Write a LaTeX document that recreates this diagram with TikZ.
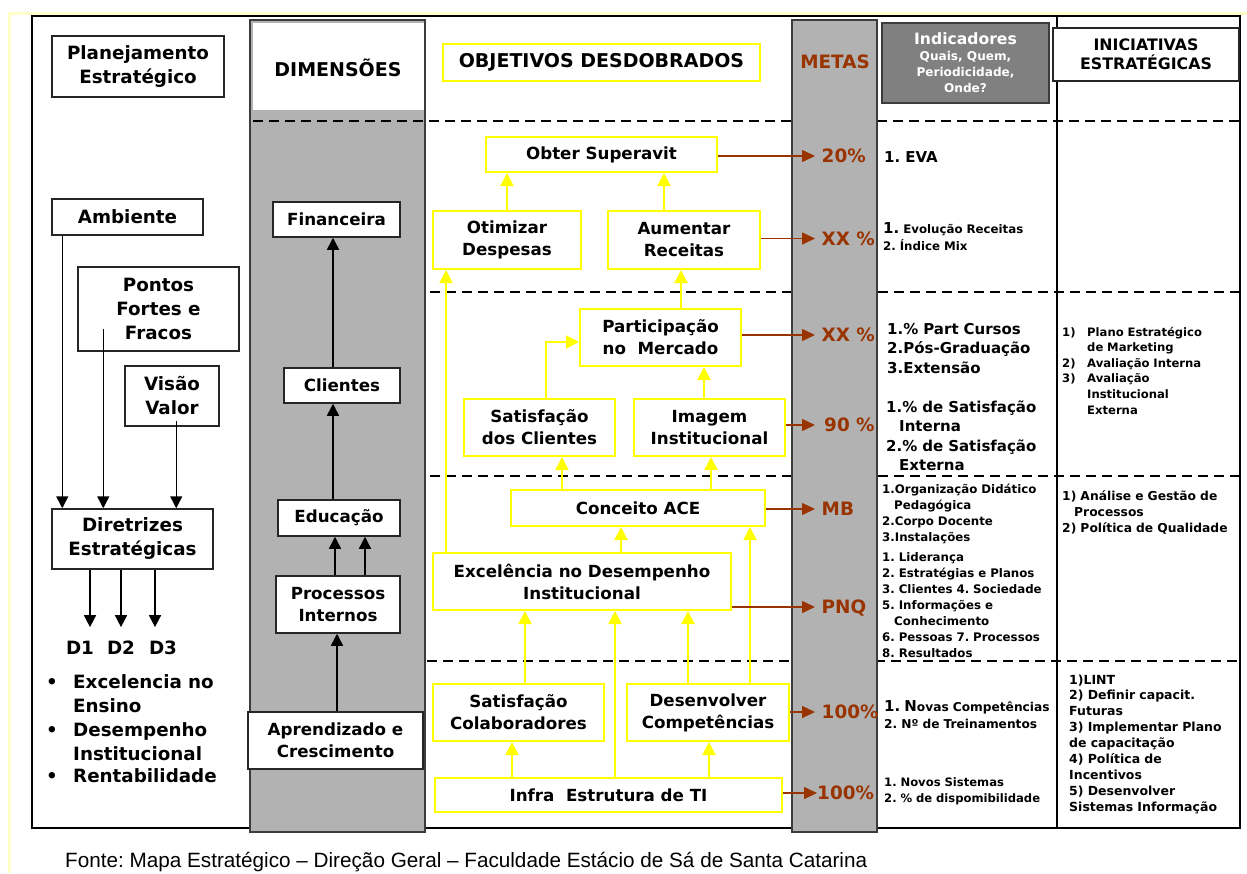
\documentclass[tikz,border=0pt]{standalone}
\usepackage{fontspec}
\setmainfont{DejaVu Sans}
\newfontfamily\srcfont{Liberation Sans}
\usetikzlibrary{arrows.meta}
\frenchspacing

\definecolor{metabrown}{RGB}{153,51,0}
\definecolor{colgray}{RGB}{178,178,178}
\definecolor{colborder}{RGB}{60,60,60}
\definecolor{hdrgray}{RGB}{128,128,128}
\definecolor{ylw}{RGB}{255,255,0}
\definecolor{paleyellow}{RGB}{255,255,200}

\newcommand\fLeft{\bfseries\fontsize{18.3pt}{24pt}\selectfont}
\newcommand\fBox{\bfseries\fontsize{16.7pt}{22pt}\selectfont}
\newcommand\fHead{\bfseries\fontsize{19pt}{23pt}\selectfont}
\newcommand\fMeta{\bfseries\fontsize{18.4pt}{22pt}\selectfont}
\newcommand\fMid{\bfseries\fontsize{15pt}{19.6pt}\selectfont}
\newcommand\fSmall{\bfseries\fontsize{11.8pt}{16pt}\selectfont}
\newcommand\fIndHead{\bfseries\fontsize{12.1pt}{16pt}\selectfont}
\newcommand\fIniHead{\bfseries\fontsize{15.8pt}{19pt}\selectfont}

\tikzset{
  blkbox/.style={draw=black!85, line width=1.5pt, fill=white, inner sep=0pt, align=center},
  ylwbox/.style={draw=ylw, line width=2pt, fill=white, inner sep=0pt, align=center, font=\fBox},
  blkarrow/.style={draw=black, line width=1.5pt, -{Triangle[length=12pt,width=12pt]}},
  ylwarrow/.style={draw=ylw, line width=2pt, -{Triangle[length=13pt,width=13pt]}},
  brarrow/.style={draw=metabrown, line width=1.5pt, -{Triangle[length=13pt,width=12pt]}},
  metaval/.style={text=metabrown, font=\fMeta, anchor=west, inner xsep=6.5pt, inner ysep=0pt,
    text height=13.4pt, text depth=0pt},
  txtblock/.style={anchor=base west, inner sep=0pt, align=left, text width=200pt},
  sepline/.style={line width=2.5pt, dash pattern=on 10pt off 6pt},
}

\begin{document}
\begin{tikzpicture}[x=1pt, y=-1pt]
  \useasboundingbox (0,0) rectangle (1247,873);

  % frames
  \draw[paleyellow, line width=3pt] (9.5,873) -- (9.5,13.5) -- (1247,13.5);
  \draw[line width=1.5pt] (32,16) rectangle (1240,828);
  \draw[line width=1.5pt] (1057,16) -- (1057,828);

  % column of the dimensions
  \draw[fill=colgray, draw=colborder, line width=2pt] (250,20) rectangle (425,832);
  \fill[white] (253,23) rectangle (424,110);

  % dashed separators
  \draw[sepline] (253,121) -- (1240,121);
  \draw[sepline] (430,292) -- (1240,292);
  \draw[sepline] (430,476) -- (1240,476);
  \draw[sepline] (427,661) -- (1240,661);

  % column of the goals
  \draw[fill=colgray, draw=colborder, line width=2pt] (792,20) rectangle (877,832);

  % headers
  \node[font=\fHead, inner sep=0pt] (dimhead) at (338,68) {DIMENSÕES};
  \node[ylwbox, font=\fHead, minimum width=317pt, minimum height=37pt] (objhead) at (601.5,62.5) {OBJETIVOS DESDOBRADOS};
  \node[font=\fMeta, text=metabrown, inner sep=0pt] (metahead) at (835,62) {METAS};
  \node[draw=colborder, line width=2pt, fill=hdrgray, text=white, inner sep=0pt, align=center,
    font=\fIndHead, minimum width=167pt, minimum height=80pt] (indhead) at (965.5,63)
    {{\fontsize{15.6pt}{16pt}\selectfont Indicadores}\\Quais, Quem,\\Periodicidade,\\Onde?};
  \node[blkbox, font=\fIniHead, minimum width=186pt, minimum height=53pt] (inihead) at (1146,54.5) {INICIATIVAS\\ESTRATÉGICAS};

  % left column
  \node[blkbox, font=\fLeft, minimum width=172pt, minimum height=61pt] (plan) at (138,66.5) {Planejamento\\Estratégico};
  \node[blkbox, font=\fLeft, minimum width=151pt, minimum height=36pt] (amb) at (127.5,217) {Ambiente};
  \node[blkbox, font=\fLeft, minimum width=161pt, minimum height=84pt] (pontos) at (158.5,309) {Pontos\\Fortes e\\Fracos};
  \node[blkbox, font=\fLeft, minimum width=94pt, minimum height=60pt] (visao) at (172,396) {Visão\\Valor};
  \node[blkbox, font=\fLeft, minimum width=161pt, minimum height=60pt] (dir) at (132.5,539) {Diretrizes\\Estratégicas};
  \node[font=\fLeft, inner sep=0pt, text height=13.3pt, text depth=0pt] (D1) at (80,648) {D1};
  \node[font=\fLeft, inner sep=0pt, text height=13.3pt, text depth=0pt] (D2) at (121,648) {D2};
  \node[font=\fLeft, inner sep=0pt, text height=13.3pt, text depth=0pt] (D3) at (163,648) {D3};
  \node[font=\fLeft, anchor=base west, inner sep=0pt] (bul1) at (46,688) {\textbullet};
  \node[font=\fLeft, anchor=base west, inner sep=0pt] (bul2) at (46,736) {\textbullet};
  \node[font=\fLeft, anchor=base west, inner sep=0pt] (bul3) at (46,782) {\textbullet};
  \node[txtblock, font=\fLeft] (dir1) at (73,688) {Excelencia no\\Ensino};
  \node[txtblock, font=\fLeft] (dir2) at (73,736) {Desempenho\\Institucional};
  \node[txtblock, font=\fLeft] (dir3) at (73,782) {Rentabilidade};

  \draw[blkarrow] ([xshift=11pt]amb.south west) -- ([xshift=11pt]amb.south west |- dir.north);
  \draw[blkarrow] ([xshift=26pt,yshift=23pt]pontos.south west) -- ([xshift=26pt]pontos.south west |- dir.north);
  \draw[blkarrow] ([xshift=52pt,yshift=6pt]visao.south west) -- ([xshift=52pt]visao.south west |- dir.north);
  \draw[blkarrow, shorten >=14pt] ([xshift=-42.5pt]dir.south) -- ([xshift=-42.5pt]dir.south |- D1.north);
  \draw[blkarrow, shorten >=14pt] ([xshift=-11.5pt]dir.south) -- ([xshift=-11.5pt]dir.south |- D2.north);
  \draw[blkarrow, shorten >=14pt] ([xshift=22.5pt]dir.south) -- ([xshift=22.5pt]dir.south |- D3.north);

  % dimensions
  \node[blkbox, font=\fBox, minimum width=127pt, minimum height=35pt] (fin) at (336.5,219.5) {Financeira};
  \node[blkbox, font=\fBox, minimum width=116pt, minimum height=35pt] (cli) at (342,385.5) {Clientes};
  \node[blkbox, font=\fBox, minimum width=122pt, minimum height=36pt] (edu) at (339,518) {Educação};
  \node[blkbox, font=\fBox, minimum width=124pt, minimum height=57pt] (proc) at (338,604.5) {Processos\\Internos};
  \node[blkbox, font=\fBox, minimum width=175pt, minimum height=57pt] (apr) at (335.5,740.5) {Aprendizado e\\Crescimento};

  \draw[blkarrow] ([xshift=-9pt]cli.north) -- ([xshift=-9pt]cli.north |- fin.south);
  \draw[blkarrow] ([xshift=-6pt]edu.north) -- ([xshift=-6pt]edu.north |- cli.south);
  \draw[blkarrow] ([xshift=-3pt]proc.north) -- ([xshift=-3pt]proc.north |- edu.south);
  \draw[blkarrow] ([xshift=27pt]proc.north) -- ([xshift=27pt]proc.north |- edu.south);
  \draw[blkarrow] ([xshift=1.5pt]apr.north) -- ([xshift=1.5pt]apr.north |- proc.south);

  % unfolded objectives
  \node[ylwbox, minimum width=231pt, minimum height=35pt] (sup) at (601.5,154.5) {Obter Superavit};
  \node[ylwbox, minimum width=148pt, minimum height=58pt] (otim) at (507,240) {Otimizar\\Despesas};
  \node[ylwbox, minimum width=152pt, minimum height=58pt] (aum) at (684,240) {Aumentar\\Receitas};
  \node[ylwbox, minimum width=161pt, minimum height=57pt] (part) at (660.5,337.5) {Participação\\no\ \ Mercado};
  \node[ylwbox, minimum width=151pt, minimum height=57pt] (satc) at (539.5,427.5) {Satisfação\\dos Clientes};
  \node[ylwbox, minimum width=151pt, minimum height=57pt] (img) at (709.5,427.5) {Imagem\\Institucional};
  \node[ylwbox, minimum width=254pt, minimum height=36pt] (ace) at (638,508) {Conceito ACE};
  \node[ylwbox, minimum width=298pt, minimum height=57pt] (exc) at (582,581.5) {Excelência no Desempenho\\Institucional};
  \node[ylwbox, minimum width=171pt, minimum height=57pt] (satcol) at (518.5,712.5) {Satisfação\\Colaboradores};
  \node[ylwbox, minimum width=162pt, minimum height=57pt] (dev) at (708,712.5) {Desenvolver\\Competências};
  \node[ylwbox, minimum width=347pt, minimum height=34pt] (infra) at (608.5,795) {Infra\ \ Estrutura de TI};

  \draw[ylwarrow] (otim.north) -- (otim.north |- sup.south);
  \draw[ylwarrow] ([xshift=-20pt]aum.north) -- ([xshift=-20pt]aum.north |- sup.south);
  \draw[ylwarrow] ([xshift=-136pt]exc.north) -- ([xshift=-136pt]exc.north |- otim.south);
  \draw[ylwarrow] ([xshift=20.5pt]part.north) -- ([xshift=20.5pt]part.north |- aum.south);
  \draw[ylwarrow] ([xshift=6.5pt]satc.north) |- ([yshift=-4.5pt]part.west);
  \draw[ylwarrow] ([xshift=-5.5pt]img.north) -- ([xshift=-5.5pt]img.north |- part.south);
  \draw[ylwarrow] ([xshift=-76pt]ace.north) -- ([xshift=-76pt]ace.north |- satc.south);
  \draw[ylwarrow] ([xshift=73pt]ace.north) -- ([xshift=73pt]ace.north |- img.south);
  \draw[ylwarrow] ([xshift=39pt]exc.north) -- ([xshift=39pt]exc.north |- ace.south);
  \draw[ylwarrow] ([xshift=42pt]dev.north) -- ([xshift=42pt]dev.north |- ace.south);
  \draw[ylwarrow] ([xshift=6.5pt]satcol.north) -- ([xshift=6.5pt]satcol.north |- exc.south);
  \draw[ylwarrow] ([xshift=6.5pt]infra.north) -- ([xshift=6.5pt]infra.north |- exc.south);
  \draw[ylwarrow] ([xshift=-20pt]dev.north) -- ([xshift=-20pt]dev.north |- exc.south);
  \draw[ylwarrow] ([xshift=-96.5pt]infra.north) -- ([xshift=-96.5pt]infra.north |- satcol.south);
  \draw[ylwarrow] ([xshift=100.5pt]infra.north) -- ([xshift=100.5pt]infra.north |- dev.south);

  % goals
  \node[metaval] (m1) at (815,156) {20\%};
  \node[metaval] (m2) at (815,238.5) {XX \%};
  \node[metaval] (m3) at (815,335) {XX \%};
  \node[metaval, inner xsep=9pt] (m4) at (815,425) {90 \%};
  \node[metaval] (m5) at (815,509) {MB};
  \node[metaval] (m6) at (815,607) {PNQ};
  \node[metaval] (m7) at (815,712) {100\%};
  \node[metaval, inner xsep=0pt] (m8) at (817,793) {100\%};

  \draw[brarrow] (m1.west -| sup.east) -- (m1.west);
  \draw[brarrow] (m2.west -| aum.east) -- (m2.west);
  \draw[brarrow] (m3.west -| part.east) -- (m3.west);
  \draw[brarrow] (m4.west -| img.east) -- (m4.west);
  \draw[brarrow] (m5.west -| ace.east) -- (m5.west);
  \draw[brarrow] (m6.west -| exc.east) -- (m6.west);
  \draw[brarrow] (m7.west -| dev.east) -- (m7.west);
  \draw[brarrow] (m8.west -| infra.east) -- (m8.west);

  % indicators
  \node[txtblock, font=\fMid] (ind1) at (884,162) {1. EVA};
  \node[txtblock, font=\bfseries\fontsize{11.8pt}{17pt}\selectfont] (ind2) at (883,233)
    {{\fMid 1.} Evolução Receitas\\2. Índice Mix};
  \node[txtblock, font=\fMid] (ind3) at (887,334) {1.\% Part Cursos\\2.Pós-Graduação\\3.Extensão};
  \node[txtblock, font=\fMid] (ind4) at (886,412)
    {1.\% de Satisfação\\\hspace*{13pt}Interna\\2.\% de Satisfação\\\hspace*{13pt}Externa};
  \node[txtblock, font=\fSmall] (ind5) at (882,493)
    {1.Organização Didático\\\hspace*{12pt}Pedagógica\\2.Corpo Docente\\3.Instalações};
  \node[txtblock, font=\fSmall] (ind6) at (882,561)
    {1. Liderança\\2. Estratégias e Planos\\3. Clientes 4. Sociedade\\5. Informações e\\\hspace*{12pt}Conhecimento\\6. Pessoas 7. Processos\\8. Resultados};
  \node[txtblock, font=\bfseries\fontsize{12.2pt}{17pt}\selectfont] (ind7) at (884,711)
    {{\fMid 1. N}ovas Competências\\2. Nº de Treinamentos};
  \node[txtblock, font=\bfseries\fontsize{11.6pt}{16pt}\selectfont] (ind8) at (884,786)
    {1. Novos Sistemas\\2. \% de dispomibilidade};

  % initiatives
  \node[txtblock, font=\bfseries\fontsize{11.6pt}{15.6pt}\selectfont] (ini1) at (1062,336)
    {\makebox[25pt][l]{1)}Plano Estratégico\\\hspace*{25pt}de Marketing\\\makebox[25pt][l]{2)}Avaliação Interna\\\makebox[25pt][l]{3)}Avaliação\\\hspace*{25pt}Institucional\\\hspace*{25pt}Externa};
  \node[txtblock, font=\bfseries\fontsize{12.3pt}{16pt}\selectfont] (ini2) at (1062,500)
    {1) Análise e Gestão de\\\hspace*{12pt}Processos\\2) Política de Qualidade};
  \node[txtblock, font=\bfseries\fontsize{12.5pt}{15.9pt}\selectfont] (ini3) at (1069,684)
    {1)LINT\\2) Definir capacit.\\Futuras\\3) Implementar Plano\\de capacitação\\4) Política de\\Incentivos\\5) Desenvolver\\Sistemas Informação};

  % source
  \node[anchor=base west, inner sep=0pt, font=\srcfont\fontsize{20.7pt}{24pt}\selectfont] (fonte) at (65,867)
    {Fonte: Mapa Estratégico – Direção Geral – Faculdade Estácio de Sá de Santa Catarina};
\end{tikzpicture}
\end{document}
